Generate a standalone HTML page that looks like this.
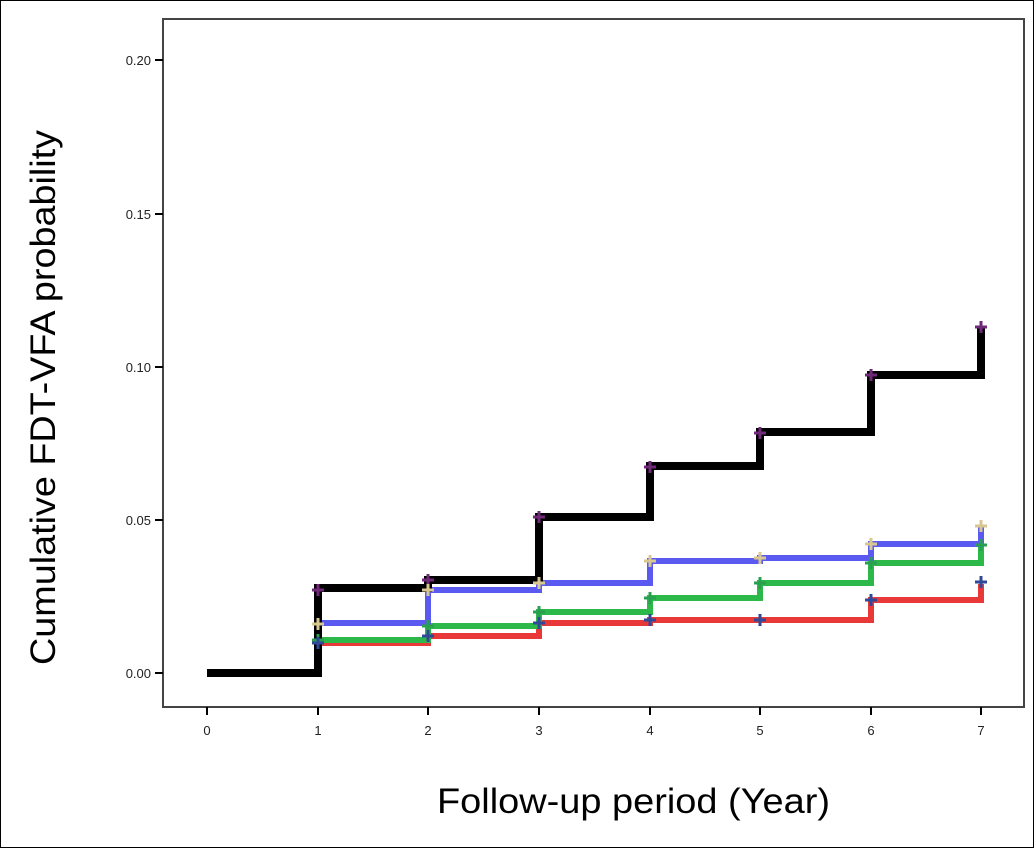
<!DOCTYPE html><html><head><style>body{margin:0;background:#fff}svg{display:block}</style></head><body>
<svg width="1034" height="848" xmlns="http://www.w3.org/2000/svg" font-family="Liberation Sans, sans-serif">
<rect x="0.5" y="0.5" width="1033" height="847" fill="#fff" stroke="#000" stroke-width="1"/>
<rect x="163" y="19" width="861" height="688" fill="#fff" stroke="#444" stroke-width="2"/>
<g stroke="#000" stroke-width="2">
<line x1="155" y1="60" x2="163" y2="60"/><line x1="155" y1="214" x2="163" y2="214"/><line x1="155" y1="367" x2="163" y2="367"/><line x1="155" y1="520" x2="163" y2="520"/><line x1="155" y1="673" x2="163" y2="673"/>
<line x1="207" y1="707" x2="207" y2="715"/><line x1="318" y1="707" x2="318" y2="715"/><line x1="428" y1="707" x2="428" y2="715"/><line x1="539" y1="707" x2="539" y2="715"/><line x1="650" y1="707" x2="650" y2="715"/><line x1="760" y1="707" x2="760" y2="715"/><line x1="871" y1="707" x2="871" y2="715"/><line x1="981" y1="707" x2="981" y2="715"/>
</g>
<g font-size="13" text-anchor="end" fill="#222">
<text x="151" y="65">0.20</text><text x="151" y="219">0.15</text><text x="151" y="372">0.10</text><text x="151" y="525">0.05</text><text x="151" y="678">0.00</text>
</g>
<g font-size="13" text-anchor="middle" fill="#222">
<text x="207" y="735">0</text><text x="318" y="735">1</text><text x="428" y="735">2</text><text x="539" y="735">3</text><text x="650" y="735">4</text><text x="760" y="735">5</text><text x="871" y="735">6</text><text x="981" y="735">7</text>
</g>
<text x="437" y="813" font-size="35" textLength="393" lengthAdjust="spacingAndGlyphs" fill="#000">Follow-up period (Year)</text>
<text transform="translate(55,665) rotate(-90)" font-size="35" textLength="535" lengthAdjust="spacingAndGlyphs" fill="#000">Cumulative FDT-VFA probability</text>
<g fill="none" stroke-linejoin="miter">
<polyline stroke="#e83838" stroke-width="6" points="318,643 428,643 428,636 539,636 539,623 650,623 650,620 871,620 871,600 981,600 981,584"/>
<polyline stroke="#2db84a" stroke-width="6" points="318,640 428,640 428,626 539,626 539,612 650,612 650,598 760,598 760,583 871,583 871,563 981,563 981,545"/>
<polyline stroke="#5a5af0" stroke-width="6" points="318,623 428,623 428,590 539,590 539,583 650,583 650,561 760,561 760,558 871,558 871,544 981,544 981,527"/>
<polyline stroke="#000" stroke-width="8" points="207,673 318,673 318,588 428,588 428,580 539,580 539,517 650,517 650,466 760,466 760,432 871,432 871,375 981,375 981,328"/>
</g>
<g stroke-width="3">
<g stroke="#702878"><path d="M312 590h12M318 584v12M422 580h12M428 574v12M533 517h12M539 511v12M644 467h12M650 461v12M754 433h12M760 427v12M865 375h12M871 369v12M975 327h12M981 321v12"/></g>
<g stroke="#d8c890"><path d="M312 624h12M318 618v12M422 590h12M428 584v12M533 583h12M539 577v12M644 561h12M650 555v12M754 558h12M760 552v12M865 544h12M871 538v12M975 526h12M981 520v12"/></g>
<g stroke="#28a050"><path d="M312 640h12M318 634v12M422 626h12M428 620v12M533 612h12M539 606v12M644 598h12M650 592v12M754 583h12M760 577v12M865 563h12M871 557v12M975 545h12M981 539v12"/></g>
<g stroke="#304898"><path d="M312 643h12M318 637v12M422 636h12M428 630v12M533 623h12M539 617v12M644 620h12M650 614v12M754 620h12M760 614v12M865 600h12M871 594v12M975 582h12M981 576v12"/></g>
</g>
</svg></body></html>
